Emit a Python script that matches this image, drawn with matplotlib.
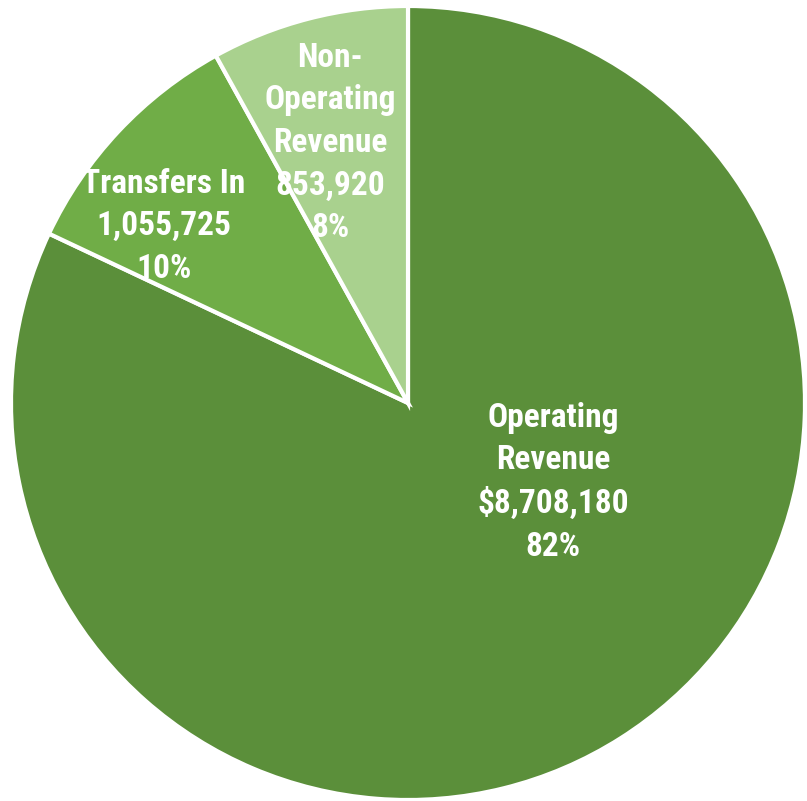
import matplotlib
matplotlib.use("Agg")
import matplotlib.pyplot as plt

# revenue sources
categories = ["Operating\nRevenue", "Transfers In", "Non-\nOperating\nRevenue"]
amounts = [8708180, 1055725, 853920]
amount_labels = ["$8,708,180", "1,055,725", "853,920"]
colors = ["#5B8F3A", "#70AD47", "#A9D18E"]

# label centres in data units (pie radius = 1)
label_pos = [(0.365, -0.2), (-0.615, 0.445), (-0.196, 0.655)]

fig = plt.figure(figsize=(8.07, 8.01), dpi=100)
ax = fig.add_axes([11 / 807, 1 / 801, 794 / 807, 794 / 801])

wedges, _ = ax.pie(
    amounts,
    colors=colors,
    startangle=90,
    counterclock=False,
    radius=1.0,
    wedgeprops=dict(edgecolor="white", linewidth=3),
)

total = sum(amounts)
for cat, lab, val, (x, y) in zip(categories, amount_labels, amounts, label_pos):
    pct = round(100 * val / total)
    ax.text(x, y, f"{cat}\n{lab}\n{pct}%", ha="center", va="center",
            color="white", fontsize=24, fontweight="bold", linespacing=1.42,
            family=["Roboto Condensed", "Barlow Condensed", "DejaVu Sans"])

ax.set_xlim(-1, 1)
ax.set_ylim(-1, 1)
ax.set_aspect("equal")
ax.axis("off")

fig.savefig("out.png", dpi=100)
